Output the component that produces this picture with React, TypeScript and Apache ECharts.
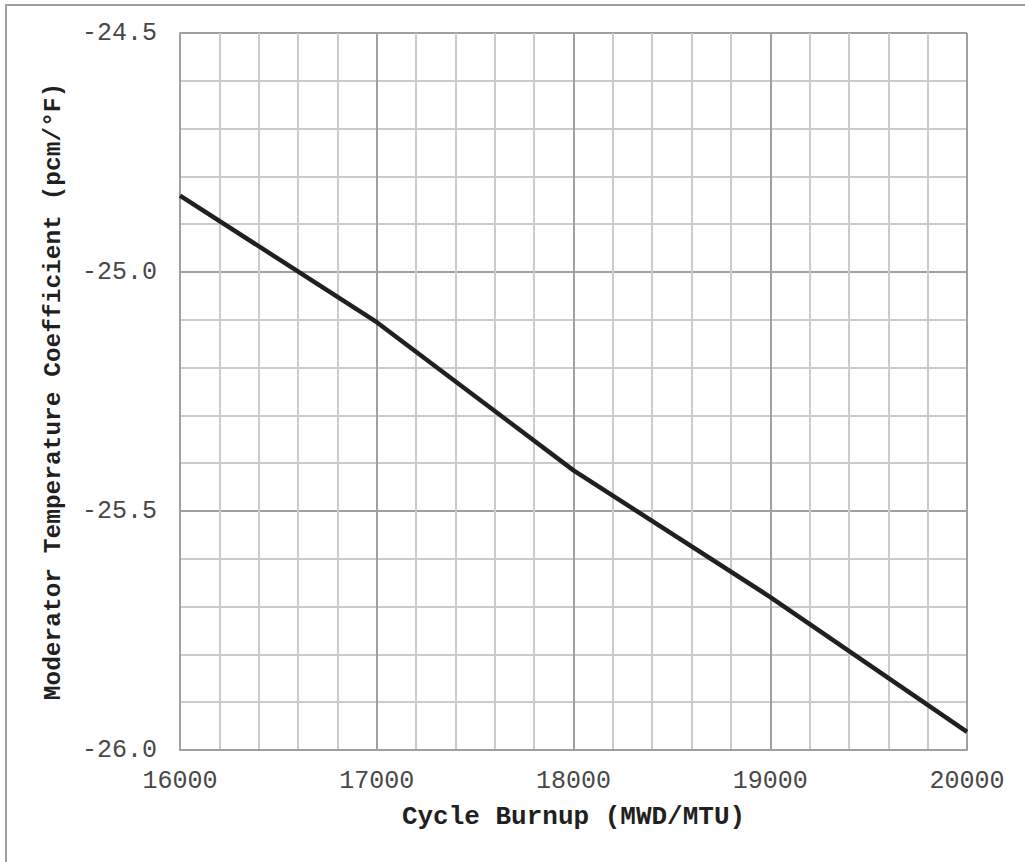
import React, { useEffect, useRef } from "react";
import * as echarts from "echarts";

const burnup = [16000, 17000, 18000, 19000, 20000];
const mtc = [-24.84, -25.105, -25.415, -25.68, -25.962];
const xTitle = "Cycle Burnup (MWD/MTU)";
const yTitle = "Moderator Temperature Coefficient (pcm/°F)";

const FONT = "'Courier New', 'Liberation Mono', monospace";

export default function App() {
  const ref = useRef<HTMLDivElement>(null);
  useEffect(() => {
    if (!ref.current) return;
    const chart = echarts.init(ref.current, null, { renderer: "svg" });
    const major = { lineStyle: { color: "#a0a0a4", width: 2 } };
    const minor = { show: true, lineStyle: { color: "#cbcbcf", width: 2 } };
    chart.setOption({
      animation: false,
      backgroundColor: "#ffffff",
      graphic: [
        {
          type: "rect",
          shape: { x: 6, y: 5, width: 1040, height: 880 },
          style: { fill: "none", stroke: "#a0a0a0", lineWidth: 2 },
          silent: true,
          z: -1,
        },
      ],
      grid: { left: 180, right: 58, top: 33, bottom: 112, containLabel: false },
      xAxis: {
        type: "value",
        min: 16000,
        max: 20000,
        interval: 1000,
        name: xTitle,
        nameLocation: "middle",
        nameGap: 54,
        nameTextStyle: { fontFamily: FONT, fontWeight: "bold", fontSize: 26, color: "#231f20" },
        axisLine: { show: true, lineStyle: { color: "#a0a0a4", width: 2 } },
        axisTick: { show: false },
        axisLabel: {
          fontFamily: FONT,
          fontSize: 25,
          color: "#484848",
          margin: 19,
          formatter: (v: number) => String(v),
        },
        splitLine: { show: true, ...major },
        minorTick: { show: false, splitNumber: 5 },
        minorSplitLine: minor,
      },
      yAxis: {
        type: "value",
        min: -26,
        max: -24.5,
        interval: 0.5,
        name: yTitle,
        nameLocation: "middle",
        nameGap: 114,
        nameRotate: 90,
        nameTextStyle: { fontFamily: FONT, fontWeight: "bold", fontSize: 24.5, color: "#231f20" },
        axisLine: { show: true, lineStyle: { color: "#a0a0a4", width: 2 } },
        axisTick: { show: false },
        axisLabel: {
          fontFamily: FONT,
          fontSize: 25,
          color: "#484848",
          margin: 23,
          formatter: (v: number) => v.toFixed(1),
        },
        splitLine: { show: true, ...major },
        minorTick: { show: false, splitNumber: 5 },
        minorSplitLine: minor,
      },
      series: [
        {
          type: "line",
          data: burnup.map((b, i) => [b, mtc[i]]),
          showSymbol: false,
          lineStyle: { color: "#231f20", width: 4.5 },
          z: 5,
        },
      ],
    });
    return () => chart.dispose();
  }, []);
  return <div ref={ref} style={{ width: 1025, height: 862, position: "absolute", left: 0, top: 0 }} />;
}
